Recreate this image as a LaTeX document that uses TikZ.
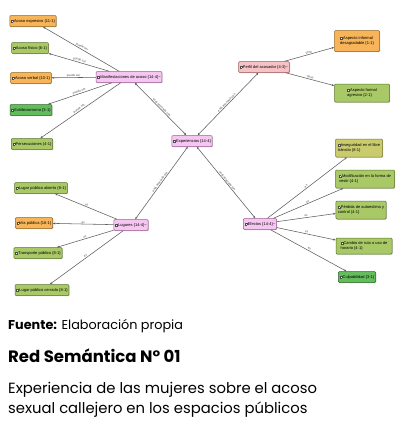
\documentclass[tikz,border=0pt]{standalone}
\usepackage{fontspec}
\setmainfont{Liberation Sans}
\newfontfamily\capfont{Poppins}
\usetikzlibrary{arrows.meta,shadows}
\definecolor{hubpink}{HTML}{F5C6F0}
\definecolor{hubline}{HTML}{9C5A94}
\definecolor{perfpink}{HTML}{F6C2C6}
\definecolor{perfline}{HTML}{A05A5E}
\definecolor{leaforange}{HTML}{F7B458}
\definecolor{orangeline}{HTML}{94661E}
\definecolor{leaflime}{HTML}{A9C866}
\definecolor{limeline}{HTML}{5A7628}
\definecolor{leafgreen}{HTML}{63BD5C}
\definecolor{greenline}{HTML}{2C6828}
\definecolor{leafolive}{HTML}{C9CB6C}
\definecolor{oliveline}{HTML}{77772A}
\definecolor{edgegray}{HTML}{5E5E5E}
\newcommand{\codeicon}{{\setlength\fboxsep{0pt}\setlength\fboxrule{0.3pt}%
  \fcolorbox{black!70}{white}{\rule{0pt}{1.8pt}\hspace{1.8pt}}}\hspace{0.6pt}}
\tikzset{
  >={Stealth[length=2.6pt,width=2pt]},
  % nodos
  cn/.style={rectangle,rounded corners=1pt,line width=0.5pt,inner sep=1.3pt,
             minimum height=11pt,align=left,font=\fontsize{4}{5.2}\selectfont,
             drop shadow={shadow xshift=0.7pt,shadow yshift=-0.7pt,opacity=0.45}},
  dos/.style={minimum height=18pt,inner xsep=2pt,minimum width=#1},
  hub/.style={cn,fill=hubpink,draw=hubline},
  perf/.style={cn,fill=perfpink,draw=perfline},
  lor/.style={cn,fill=leaforange,draw=orangeline},
  llm/.style={cn,fill=leaflime,draw=limeline},
  lgr/.style={cn,fill=leafgreen,draw=greenline},
  lol/.style={cn,fill=leafolive,draw=oliveline},
  % aristas
  re/.style={->,draw=edgegray,line width=0.55pt},
  rb/.style={<->,draw=edgegray,line width=0.55pt},
  rl/.style={font=\fontsize{3}{3}\selectfont,text=black!70,sloped,above,inner sep=0.6pt},
  captxt/.style={anchor=base west,inner sep=0pt},
}
\begin{document}
\begin{tikzpicture}[x=1pt,y=-1pt]
\useasboundingbox[fill=white] (0,0) rectangle (406,424);
  \node[hub] (exp) at (192,141) {\codeicon Experiencias \{14-4\}};
  \node[hub] (man) at (129,77) {\codeicon Manifestaciones de acoso \{14-4\}\textasciitilde};
  \node[perf] (per) at (264,67) {\codeicon Perfil del acosador \{4-3\}\textasciitilde};
  \node[hub] (lug) at (131,225) {\codeicon Lugares \{14-4\}\textasciitilde};
  \node[hub] (efe) at (260,224) {\codeicon Efectos \{14-4\}\textasciitilde};

  \node[lor] (aex) at (33,21) {\codeicon Acoso expresivo \{11-1\}};
  \node[llm] (afi) at (30,48) {\codeicon Acoso físico \{6-1\}};
  \node[lor] (ave) at (31,78) {\codeicon Acoso verbal \{10-1\}};
  \node[lgr] (exh) at (31,110) {\codeicon Exhibicionismo \{3-1\}};
  \node[llm] (pers) at (32,144) {\codeicon Persecuciones \{4-1\}};

  \node[lor,dos=45pt,minimum height=21pt] (ain) at (357,41) {\codeicon Aspecto informal\\desagradable \{1-1\}};
  \node[llm,dos=55pt] (afo) at (362,93) {\codeicon Aspecto formal\\agresivo \{2-1\}};

  \node[lol,dos=47pt] (ins) at (359,148) {\codeicon Inseguridad en el libre\\tránsito \{8-1\}};
  \node[llm,dos=59pt] (mod) at (365,179) {\codeicon Modificación en la forma de\\vestir \{4-1\}};
  \node[llm,dos=50pt] (pau) at (361,210) {\codeicon Pérdida de autoestima y\\control \{4-1\}};
  \node[llm,dos=56pt,minimum height=16pt] (cam) at (364,246) {\codeicon Cambio de ruta o uso de\\horario \{4-1\}};
  \node[lgr] (cul) at (357,277) {\codeicon Culpabilidad \{3-1\}};

  \node[llm] (lpa) at (41,188) {\codeicon Lugar público abierto \{8-1\}};
  \node[lor] (vpu) at (34,223) {\codeicon Vía pública \{16-1\}};
  \node[llm] (tpu) at (38,253) {\codeicon Transporte público \{8-1\}};
  \node[llm] (lpc) at (42,290) {\codeicon Lugar público cerrado \{8-1\}};

  \draw[rb] (man) -- node[rl] {está asociado con} (exp);
  \draw[rb] (exp) -- node[rl] {está asociado con} (per);
  \draw[rb] (lug) -- node[rl] {está asociado con} (exp);
  \draw[rb] (exp) -- node[rl] {está asociado con} (efe);

  \draw[re] (man) -- node[rl] {puede ser} (aex);
  \draw[re] (man) -- node[rl] {puede ser} (afi);
  \draw[re] (man) -- node[rl] {puede ser} (ave);
  \draw[re] (man) -- node[rl] {puede ser} (exh);
  \draw[re] (man) -- node[rl] {puede ser} (pers);

  \draw[re] (per) -- node[rl] {tiene} (ain);
  \draw[re] (per) -- node[rl] {tiene} (afo);

  \draw[re] (lug) -- node[rl] {es} (lpa);
  \draw[re] (lug) -- node[rl] {es} (vpu);
  \draw[re] (lug) -- node[rl] {es} (tpu);
  \draw[re] (lug) -- node[rl] {es} (lpc);

  \draw[re] (efe) -- node[rl] {es} (ins);
  \draw[re] (efe) -- node[rl] {es} (mod);
  \draw[re] (efe) -- node[rl] {es} (pau);
  \draw[re] (efe) -- node[rl] {es} (cam);
  \draw[re] (efe) -- node[rl] {es} (cul);

  \node[captxt,font=\capfont\fontsize{12.8}{15}\selectfont] (fue) at (8,329)
    {\textbf{Fuente:} Elaboración propia};
  \node[captxt,font=\capfont\fontsize{16.5}{19}\selectfont\bfseries] (red) at (8,362)
    {Red Semántica N° 01};
  \node[captxt,font=\capfont\fontsize{14.8}{18}\selectfont] (tit) at (8,393)
    {Experiencia de las mujeres sobre el acoso};
  \node[captxt,font=\capfont\fontsize{14.8}{18}\selectfont] (tit2) at (8,413)
    {sexual callejero en los espacios públicos};
\end{tikzpicture}
\end{document}
